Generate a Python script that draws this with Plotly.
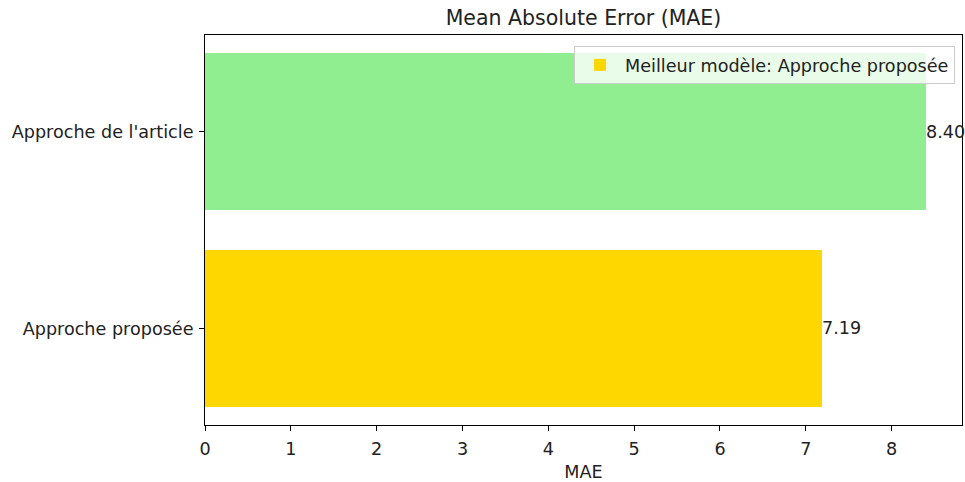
import plotly.graph_objects as go

categories = ["Approche proposée", "Approche de l'article"]
mae_values = [7.19, 8.40]
bar_colors = ["#FFD700", "#90EE90"]
legend_label = "Meilleur modèle: Approche proposée"
x_ticks = [0, 1, 2, 3, 4, 5, 6, 7, 8]

FONT = "DejaVu Sans"
FS = 17.6
TFS = 20.5
TXT = "#222222"

fig = go.Figure()
ypos = list(range(len(categories)))

fig.add_trace(go.Bar(
    x=[mae_values[0]], y=[ypos[0]], orientation="h", width=0.8,
    marker=dict(color=bar_colors[0], line=dict(width=0)),
    name=legend_label, showlegend=True,
))
fig.add_trace(go.Bar(
    x=[mae_values[1]], y=[ypos[1]], orientation="h", width=0.8,
    marker=dict(color=bar_colors[1], line=dict(width=0)),
    name=categories[1], showlegend=False,
))

for yv, v in zip(ypos, mae_values):
    fig.add_annotation(x=v, y=yv, text=f"{v:.2f}", showarrow=False,
                       xanchor="left", yanchor="middle", xshift=-2,
                       font=dict(family=FONT, size=FS, color=TXT))

fig.update_layout(
    width=965, height=482,
    margin=dict(l=205, r=3, t=35, b=57),
    paper_bgcolor="white", plot_bgcolor="white",
    font=dict(family=FONT, size=FS, color=TXT),
    title=dict(text="Mean Absolute Error (MAE)", x=0.5, xref="paper",
               y=1 - 18 / 482, yanchor="middle",
               font=dict(family=FONT, size=TFS, color=TXT)),
    bargap=0,
    legend=dict(x=0.9908, y=0.972, xanchor="right", yanchor="top",
                itemwidth=40,
                bgcolor="rgba(255,255,255,0.8)", bordercolor="#cccccc",
                borderwidth=1, font=dict(family=FONT, size=FS, color=TXT)),
    xaxis=dict(range=[0, 8.82], tickvals=x_ticks, showgrid=False, zeroline=False,
               showline=True, linecolor="black", linewidth=1, mirror=True,
               ticks="outside", ticklen=5, tickcolor="black",
               ticklabelstandoff=3,
               title=dict(text="MAE", standoff=9,
                          font=dict(family=FONT, size=FS, color=TXT))),
    yaxis=dict(range=[-0.49, 1.49], tickvals=ypos, ticktext=categories,
               showgrid=False, zeroline=False,
               showline=True, linecolor="black", linewidth=1, mirror=True,
               ticks="outside", ticklen=5, tickcolor="black",
               ticklabelstandoff=2),
)

fig.write_html("out.html",
               config={"displayModeBar": False},
               post_script="document.body.style.margin='0';document.body.style.overflow='hidden';")
